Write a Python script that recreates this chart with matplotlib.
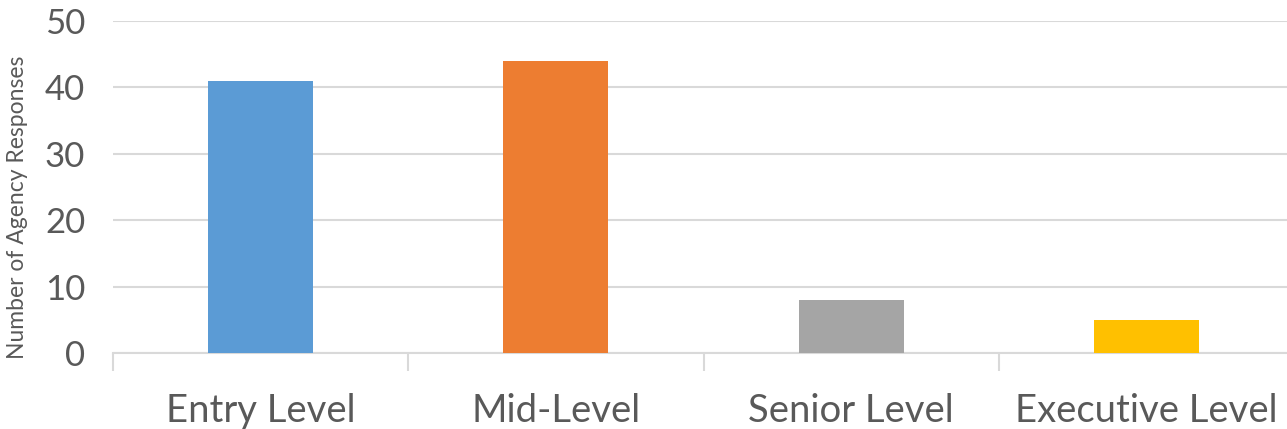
import matplotlib.pyplot as plt

levels = ["Entry Level", "Mid-Level", "Senior Level", "Executive Level"]
responses = [41, 44, 8, 5]
bar_colors = ["#5b9bd5", "#ed7d31", "#a5a5a5", "#ffc000"]

plt.rcParams["font.family"] = ["Lato", "DejaVu Sans"]
text_color = "#595959"
grid_color = "#d9d9d9"

fig = plt.figure(figsize=(12.87, 4.29), dpi=100)
# plot area runs slightly past the right edge of the image
ax = fig.add_axes([113 / 1287, (429 - 353) / 429, 1181 / 1287, 332 / 429])

x = list(range(len(levels)))
ax.bar(x, responses, width=0.356, color=bar_colors, zorder=3)

ax.set_xlim(-0.5, len(levels) - 0.5)
ax.set_ylim(0, 50)
ax.set_yticks(range(0, 51, 10))
ax.yaxis.grid(True, color=grid_color, linewidth=1.5, zorder=0)

for side in ["top", "right", "left"]:
    ax.spines[side].set_visible(False)
ax.spines["bottom"].set_color(grid_color)
ax.spines["bottom"].set_linewidth(1.5)

ax.tick_params(axis="y", length=0, labelsize=25, labelcolor=text_color, pad=20)

# category labels centred, tick marks on the boundaries between categories
ax.set_xticks(x)
ax.set_xticklabels(levels)
ax.tick_params(axis="x", which="major", length=0, labelsize=27.5, labelcolor=text_color, pad=29)
ax.set_xticks([i - 0.5 for i in range(len(levels) + 1)], minor=True)
ax.tick_params(axis="x", which="minor", length=13, width=1.5, color=grid_color)

ax.set_ylabel("Number of Agency Responses", fontsize=16.5, color=text_color)
ax.yaxis.set_label_coords(-0.072, 0.44)

fig.savefig("out.png", dpi=100)
